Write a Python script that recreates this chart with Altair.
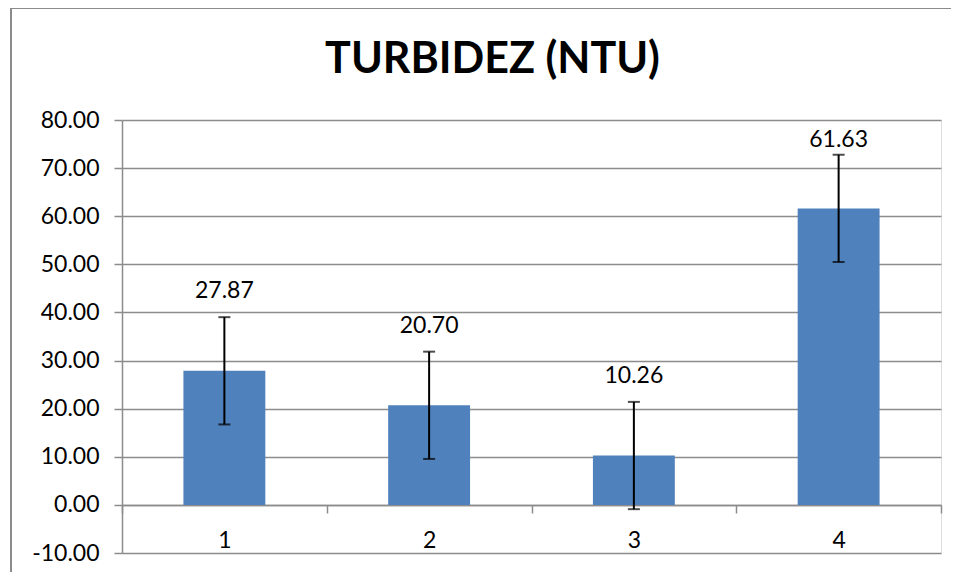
import altair as alt
import pandas as pd

categories = ["1", "2", "3", "4"]
values = [27.87, 20.70, 10.26, 61.63]
errors = [11.15, 11.15, 11.15, 11.15]
labels = ["27.87", "20.70", "10.26", "61.63"]

df = pd.DataFrame({"cat": categories, "v": values, "err": errors, "lab": labels})

FONT = "Lato"
GRID = "#8c8c8c"
FS = 23

x = alt.X("cat:N", sort=categories, title=None,
          scale=alt.Scale(paddingInner=0, paddingOuter=0),
          axis=alt.Axis(labelAngle=0, offset=-48, domainColor=GRID, domainWidth=1.5,
                        tickColor=GRID, tickWidth=1.5, tickSize=8, tickBand="extent",
                        labelFont=FONT, labelFontSize=FS, labelColor="black",
                        labelPadding=16, grid=False))
yscale = alt.Scale(domain=[-10, 80], nice=False, zero=False)
y = alt.Y("v:Q", scale=yscale, title=None,
          axis=alt.Axis(values=list(range(-10, 81, 10)), format=".2f",
                        labelExpr="replace(datum.label, '\u2212', '-')",
                        domainColor=GRID, domainWidth=1.5, tickColor=GRID, tickWidth=1.5,
                        tickSize=8, labelPadding=15, labelFont=FONT, labelFontSize=FS,
                        labelColor="black", gridColor=GRID, gridWidth=1.5))

base = alt.Chart(df)

frame = base.mark_rect(fill=None, stroke="#8a8a8a", strokeWidth=1.5, clip=False).encode(
    x=alt.value(-111), x2=alt.value(1000), y=alt.value(-112), y2=alt.value(600))

bars = base.mark_bar(color="#4F81BD", width=alt.RelativeBandSize(0.4)).encode(x=x, y=y)

rules = base.transform_calculate(lo="datum.v - datum.err", hi="datum.v + datum.err").mark_rule(
    color="black", strokeWidth=2).encode(x=alt.X("cat:N", sort=categories), y="lo:Q", y2="hi:Q")

caps_hi = base.transform_calculate(hi="datum.v + datum.err").mark_tick(
    color="black", size=12, thickness=2).encode(x=alt.X("cat:N", sort=categories), y="hi:Q")
caps_lo = base.transform_calculate(lo="datum.v - datum.err").mark_tick(
    color="black", size=12, thickness=2).encode(x=alt.X("cat:N", sort=categories), y="lo:Q")

text = base.transform_calculate(ly="min(datum.v + 15.1, 74.4)").mark_text(
    font=FONT, fontSize=FS, color="black", baseline="alphabetic").encode(
    x=alt.X("cat:N", sort=categories), y="ly:Q", text="lab:N")

chart = alt.layer(frame, bars, rules, caps_hi, caps_lo, text).properties(
    width=819, height=433,
    padding={"left": 114, "top": 112, "right": 10, "bottom": 19},
    autosize=alt.AutoSizeParams(type="none"),
    title=alt.TitleParams("TURBIDEZ (NTU)", font=FONT, fontSize=43, fontWeight="bold",
                          color="black", anchor="middle", frame="group", offset=0,
                          baseline="alphabetic", dx=-39, dy=109),
).configure_view(stroke="transparent", strokeWidth=0).configure(background="white")

chart.save("out.html", embed_options={"renderer": "svg", "actions": False})
